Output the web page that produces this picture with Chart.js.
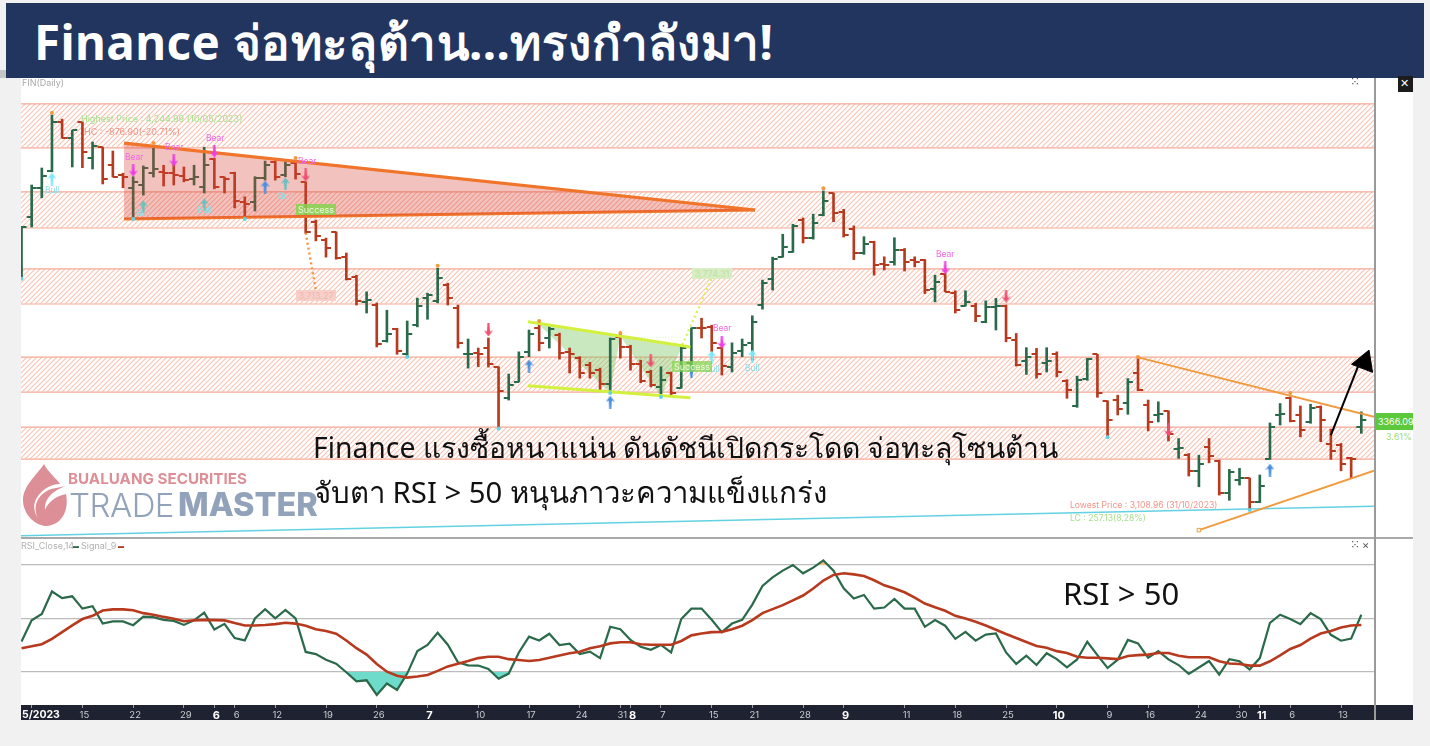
<!DOCTYPE html>
<html>
<head>
<meta charset="utf-8">
<title>Finance</title>
<script src="https://cdn.jsdelivr.net/npm/chart.js@4"></script>
<style>
  html, body { margin: 0; padding: 0; background: #f1f1f1; }
  body { position: relative; width: 1430px; height: 746px; overflow: hidden; font-family: Inter, "Noto Sans", sans-serif; }
  .box { position: absolute; }
  .note { position: absolute; white-space: nowrap; }
  canvas { position: absolute; }
</style>
</head>
<body>
<div class="box" style="left:0;top:70px;width:6px;height:8px;background:#c6c6c6"></div>
<div class="box" style="left:21px;top:78px;width:1392px;height:642px;background:#fff"></div>
<div class="box" style="left:21px;top:705px;width:1392px;height:15px;background:#1f2230"></div>
<canvas id="priceChart" style="left:21px;top:78px"></canvas>
<canvas id="rsiChart" style="left:21px;top:538px"></canvas>
<div class="box" style="left:21px;top:537px;width:1392px;height:1.5px;background:#a9a9a9"></div>
<div class="box" style="left:1373.5px;top:78px;width:2px;height:642px;background:#9a9a9a"></div>
<div class="box" style="left:6px;top:3px;width:1418px;height:75px;background:#22355f"></div>
<div class="box" style="left:1398px;top:76px;width:15px;height:16px;background:#1c1c1c"></div>
<div class="box" style="left:1376px;top:413px;width:37px;height:17px;background:#5cc83c"></div>
<svg class="box" style="left:22px;top:462px" width="46" height="66" viewBox="0 0 46 66">
  <path d="M22 2 C26 10 34 16 38 22 C30 22 22 26 16 34 C10 42 12 50 16 56 C10 44 16 32 29 27 L44 24 C32 28 22 36 23 48 C26 40 34 34 44 32 C46 42 44 52 38 58 C34 62 28 64 23 64 C10 62 1 50 1 38 C1 24 14 14 22 2 Z" fill="#dc8f97"/>
</svg>
<div id="notes"></div>

<script>
// bar index of each date tick on the shared x axis
const tickIdx = [1, 6, 11, 16, 19, 21, 25, 30, 35, 40, 45, 50, 55, 59, 60, 63, 68, 72, 77, 81, 87, 92, 97, 102, 107, 111, 116, 120, 122, 125, 130];
const tickText = ["", "15", "22", "29", "6", "6", "12", "19", "26", "7", "10", "17", "24", "31", "8", "7", "15", "21", "28", "9", "11", "18", "25", "10", "9", "16", "24", "30", "11", "6", "13"];
const monthTicks = [19, 40, 60, 81, 102, 122];

const opens = [
  3798, 3951, 4034, 4083, 4225, 4178, 4224, 4120, 4152, 4100,
  4071, 4034, 4043, 4078, 4081, 4078, 4069, 4060, 4038, 4118,
  4066, 4077, 3994, 3994, 4063, 4109, 4071, 4107, 4052, 3936,
  3884, 3907, 3835, 3778, 3706, 3697, 3593, 3627, 3555, 3639,
  3717, 3709, 3754, 3688, 3555, 3559, 3573, 3519, 3429, 3476,
  3562, 3630, 3602, 3610, 3562, 3544, 3524, 3509, 3469, 3605,
  3576, 3527, 3503, 3461, 3501, 3458, 3529, 3631, 3634, 3573,
  3518, 3565, 3588, 3697, 3772, 3836, 3850, 3942, 3890, 3956,
  4019, 3966, 3915, 3846, 3879, 3814, 3822, 3857, 3828, 3826,
  3742, 3786, 3733, 3695, 3694, 3649, 3690, 3695, 3596, 3536,
  3557, 3530, 3557, 3478, 3406, 3485, 3555, 3420, 3423, 3415,
  3500, 3408, 3380, 3391, 3281, 3264, 3219, 3288, 3248, 3154,
  3192, 3197, 3130, 3252, 3380, 3428, 3380, 3360, 3403, 3296,
  3293, 3255, 3344
];
const highs = [
  3924, 4043, 4092, 4245, 4233, 4201, 4225, 4167, 4152, 4141,
  4077, 4067, 4098, 4149, 4100, 4103, 4095, 4100, 4152, 4120,
  4066, 4080, 4009, 4067, 4112, 4113, 4110, 4112, 4052, 3942,
  3890, 3908, 3847, 3783, 3735, 3703, 3682, 3630, 3651, 3717,
  3731, 3803, 3760, 3697, 3599, 3573, 3602, 3519, 3498, 3562,
  3625, 3645, 3634, 3616, 3573, 3548, 3532, 3515, 3602, 3613,
  3581, 3538, 3509, 3519, 3504, 3576, 3631, 3659, 3639, 3576,
  3588, 3599, 3666, 3769, 3835, 3901, 3930, 3948, 3959, 4026,
  4020, 3973, 3925, 3894, 3881, 3836, 3891, 3860, 3836, 3828,
  3783, 3788, 3738, 3738, 3702, 3709, 3716, 3697, 3615, 3574,
  3572, 3574, 3562, 3482, 3492, 3543, 3555, 3421, 3437, 3485,
  3544, 3423, 3418, 3392, 3312, 3269, 3264, 3312, 3250, 3223,
  3226, 3198, 3207, 3357, 3413, 3432, 3406, 3411, 3406, 3339,
  3298, 3258, 3389
];
const lows = [
  3775, 3922, 4006, 4081, 4178, 4095, 4093, 4089, 4046, 4066,
  4035, 3948, 4014, 4066, 4040, 4043, 4052, 4043, 4020, 4032,
  4020, 3977, 3948, 3968, 4057, 4057, 4067, 4060, 3904, 3882,
  3835, 3829, 3769, 3697, 3674, 3576, 3590, 3555, 3550, 3634,
  3656, 3703, 3697, 3573, 3515, 3519, 3518, 3342, 3423, 3475,
  3548, 3565, 3573, 3541, 3501, 3486, 3486, 3452, 3446, 3544,
  3509, 3473, 3461, 3437, 3437, 3457, 3501, 3602, 3562, 3495,
  3504, 3548, 3538, 3685, 3740, 3835, 3849, 3876, 3887, 3954,
  3937, 3893, 3828, 3843, 3783, 3798, 3812, 3795, 3807, 3730,
  3706, 3735, 3674, 3694, 3649, 3646, 3625, 3591, 3521, 3497,
  3486, 3504, 3490, 3428, 3402, 3480, 3431, 3317, 3380, 3382,
  3450, 3334, 3360, 3305, 3255, 3204, 3173, 3242, 3149, 3134,
  3178, 3109, 3127, 3252, 3351, 3360, 3317, 3356, 3303, 3252,
  3219, 3197, 3327
];
const closes = [
  3922, 4034, 4069, 4225, 4179, 4201, 4138, 4155, 4060, 4067,
  4066, 4052, 4092, 4089, 4077, 4071, 4057, 4066, 4100, 4037,
  4060, 3996, 3988, 4064, 4100, 4067, 4100, 4074, 3907, 3896,
  3861, 3833, 3772, 3709, 3711, 3584, 3613, 3565, 3613, 3694,
  3726, 3775, 3717, 3587, 3555, 3555, 3527, 3449, 3466, 3547,
  3613, 3588, 3627, 3558, 3555, 3501, 3501, 3469, 3599, 3576,
  3527, 3478, 3466, 3480, 3443, 3573, 3630, 3630, 3588, 3521,
  3560, 3581, 3649, 3760, 3829, 3864, 3924, 3891, 3933, 3996,
  3963, 3898, 3846, 3873, 3812, 3812, 3857, 3822, 3822, 3740,
  3764, 3735, 3682, 3706, 3665, 3692, 3695, 3602, 3524, 3548,
  3498, 3536, 3503, 3452, 3480, 3540, 3444, 3365, 3397, 3476,
  3452, 3360, 3384, 3324, 3284, 3218, 3238, 3261, 3156, 3216,
  3197, 3130, 3176, 3346, 3382, 3362, 3338, 3399, 3365, 3276,
  3238, 3253, 3366.09
];

const rsiValues = [
  41.4, 49.3, 51.7, 60.1, 57.6, 58.3, 53.7, 54.6, 48.1, 48.9,
  48.9, 47.5, 50.7, 50.5, 49.5, 49.1, 47.6, 49.3, 52.2, 45.9,
  48.0, 42.7, 41.8, 50.0, 53.5, 50.1, 53.2, 50.0, 37.5, 36.7,
  34.6, 33.1, 29.9, 26.5, 26.9, 21.4, 25.7, 23.3, 29.4, 37.8,
  40.1, 44.7, 40.2, 33.6, 32.5, 32.4, 31.1, 27.5, 29.4, 37.3,
  43.2, 41.8, 44.3, 40.1, 40.6, 36.7, 37.6, 35.2, 46.9, 46.0,
  42.0, 39.4, 38.3, 40.1, 37.3, 49.8, 53.7, 53.7, 49.5, 44.9,
  48.1, 49.5, 55.2, 62.2, 65.4, 67.9, 70.0, 66.9, 69.0, 71.7,
  67.9, 61.3, 57.5, 58.8, 53.7, 54.1, 57.3, 53.7, 53.7, 46.9,
  49.4, 47.3, 42.4, 45.0, 41.7, 44.0, 44.4, 37.3, 33.0, 36.1,
  32.6, 37.0, 34.8, 31.7, 34.7, 41.3, 36.3, 31.5, 34.6, 42.0,
  40.7, 35.3, 37.8, 34.7, 32.6, 29.3, 31.7, 34.1, 29.0, 34.8,
  34.0, 30.9, 35.2, 48.4, 51.4, 49.8, 47.9, 52.0, 49.8, 43.9,
  41.7, 42.5, 51.4
];
const signalValues = [
  38.9, 39.6, 40.4, 42.4, 44.9, 47.4, 49.8, 51.0, 53.0, 53.4,
  53.4, 53.1, 52.0, 51.4, 50.6, 49.9, 49.0, 49.3, 49.5, 49.4,
  49.3, 48.3, 47.4, 47.4, 47.6, 47.9, 48.4, 48.1, 47.3, 46.0,
  45.3, 44.3, 41.8, 38.9, 36.5, 33.0, 30.1, 28.6, 27.9, 28.3,
  28.9, 30.4, 32.1, 33.1, 34.1, 35.2, 35.7, 35.7, 34.8, 34.5,
  34.1, 34.5, 35.3, 36.2, 37.0, 37.6, 38.9, 39.6, 40.7, 41.1,
  41.1, 40.4, 40.2, 40.2, 40.2, 41.6, 43.7, 44.4, 44.9, 45.0,
  46.0, 47.3, 49.4, 52.0, 53.5, 55.0, 56.8, 58.6, 61.2, 64.2,
  66.3, 66.9, 66.5, 65.9, 64.3, 62.4, 61.2, 59.8, 57.8, 55.6,
  54.2, 52.9, 51.0, 50.0, 48.8, 47.4, 45.8, 44.2, 42.7, 41.2,
  39.7, 39.1, 37.8, 37.1, 35.7, 35.3, 35.3, 35.1, 34.8, 36.0,
  36.3, 36.5, 37.1, 37.1, 36.1, 35.5, 35.5, 35.5, 34.0, 33.2,
  33.0, 32.4, 32.4, 34.0, 36.2, 38.6, 40.1, 42.5, 44.4, 45.3,
  46.6, 47.4, 47.6
];
const rsiGuides = [30, 50, 70];

// resistance zones, top and bottom price of each band
const zoneTops = [4277, 4023, 3801, 3547, 3345];
const zoneBottoms = [4150, 3919, 3700, 3446, 3253];

// drawn trend lines, as [bar index, price]
const triTop = [[10.1, 4164], [72.27, 3971]];
const triBottom = [[10.1, 3945], [72.27, 3971]];
const pennantTop = [[49.9, 3649], [65.9, 3576]];
const pennantBottom = [[49.9, 3464], [65.9, 3430]];
const pennantShadeTop = [[51, 3640], [59, 3608], [65.1, 3582]];
const pennantShadeLow = [[51, 3640], [58, 3443], [59, 3608], [63, 3432], [65.1, 3582]];
const breakDown = [[28, 3905], [29, 3740]];
const breakUp = [[65.1, 3582], [68, 3774]];
const pennantLevel = [[59, 3604], [65.1, 3604]];
const channelTop = [[110, 3546], [133.25, 3375]];
const channelBottom = [[116, 3048], [133.25, 3219]];
const channelAnchor = [[116, 3048]];
const supportLine = [[-0.05, 3032], [133.25, 3117]];
const arrowShaft = [[129, 3322], [132, 3544]];
const arrowHead = [[132.3, 3532]];

const pivotHighs = [[3, 4251], [13, 4164], [27, 4121], [41, 3810], [51, 3651], [59, 3616], [79, 4034], [110, 3547], [125, 3443]];
const pivotLows = [[0, 3773], [11, 3945], [22, 3945], [38, 3547], [47, 3341], [58, 3443], [63, 3432], [107, 3316], [121, 3106]];

const bullCyan = [[3, 4060], [68, 3547], [72, 3550]];
const bullTeal = [[12, 3980], [18, 3986], [26, 4046]];
const bullBlue = [[24, 4037], [50, 3521], [58, 3417], [66, 3504], [123, 3221]];
const bearMagenta = [[11, 4086], [15, 4115], [19, 4141], [69, 3590], [91, 3804]];
const bearRose = [[28, 4072], [46, 3625], [62, 3536], [97, 3723], [113, 3337]];

const X_MIN = -0.05, X_MAX = 133.25;
const GREEN = "#2a6a4b", RED = "#b73a1f";

function xy(pairs) {
    return pairs.map(p => ({ x: p[0], y: p[1] }));
}

function makeTick(color, side) {
    const c = document.createElement("canvas");
    c.width = 12;
    c.height = 2;
    const g = c.getContext("2d");
    g.fillStyle = color;
    if (side === "left") g.fillRect(1, 0, 5, 2);
    else g.fillRect(6, 0, 5, 2);
    return c;
}

function makeArrow(color, dir) {
    const c = document.createElement("canvas");
    c.width = 9;
    c.height = 13;
    const g = c.getContext("2d");
    g.fillStyle = color;
    if (dir < 0) g.setTransform(1, 0, 0, -1, 0, 13);
    g.beginPath();
    g.moveTo(4.5, 0);
    g.lineTo(9, 6);
    g.lineTo(6, 5);
    g.lineTo(5.5, 13);
    g.lineTo(3.5, 13);
    g.lineTo(3, 5);
    g.lineTo(0, 6);
    g.closePath();
    g.fill();
    return c;
}

function makeHatch() {
    const c = document.createElement("canvas");
    c.width = 5;
    c.height = 5;
    const g = c.getContext("2d");
    g.strokeStyle = "#f9c3b3";
    g.lineWidth = 1.1;
    g.beginPath();
    g.moveTo(-1, 6);
    g.lineTo(6, -1);
    g.moveTo(-1, 1);
    g.lineTo(1, -1);
    g.moveTo(4, 6);
    g.lineTo(6, 4);
    g.stroke();
    return document.createElement("canvas").getContext("2d").createPattern(c, "repeat");
}

function trend(pairs, color, width, extra) {
    return Object.assign({
        type: "line",
        data: xy(pairs),
        borderColor: color,
        borderWidth: width,
        pointRadius: 0,
        fill: false,
        tension: 0,
        order: 20
    }, extra || {});
}

function markers(pairs, style, extra) {
    return Object.assign({
        type: "line",
        data: xy(pairs),
        showLine: false,
        pointStyle: style,
        pointRadius: 5,
        order: 10
    }, extra || {});
}

function zoneDatasets() {
    const hatch = makeHatch();
    const out = [];
    zoneTops.forEach((top, i) => {
        out.push(trend([[X_MIN, top], [X_MAX, top]], "#f5a995", 1.2, { fill: "+1", backgroundColor: hatch, order: 50 }));
        out.push(trend([[X_MIN, zoneBottoms[i]], [X_MAX, zoneBottoms[i]]], "#f5a995", 1.2, { order: 50 }));
    });
    return out;
}

function buildPriceDatasets() {
    const colors = closes.map((c, i) => (c >= opens[i] ? GREEN : RED));
    const leftGreen = makeTick(GREEN, "left"), leftRed = makeTick(RED, "left");
    const rightGreen = makeTick(GREEN, "right"), rightRed = makeTick(RED, "right");
    return [
        ...zoneDatasets(),
        trend(supportLine, "#62d2e2", 1.4, { order: 45 }),
        trend(triTop, "#f0742a", 3.2, { fill: "+1", backgroundColor: "rgba(214,66,52,0.32)", order: 19 }),
        trend(triBottom, "#f0742a", 3.2, { order: 19 }),
        trend(pennantShadeTop, "rgba(0,0,0,0)", 0, { fill: "+1", backgroundColor: "rgba(115,195,90,0.38)", order: 40 }),
        trend(pennantShadeLow, "rgba(0,0,0,0)", 0, { order: 40 }),
        {
            type: "bar",
            data: highs.map((h, i) => ({ x: i, y: [lows[i], h] })),
            backgroundColor: colors,
            barThickness: 2,
            order: 30
        },
        markers(opens.map((o, i) => [i, o]), c => (closes[c.dataIndex] >= opens[c.dataIndex] ? leftGreen : leftRed), { order: 29 }),
        markers(closes.map((o, i) => [i, o]), c => (closes[c.dataIndex] >= opens[c.dataIndex] ? rightGreen : rightRed), { order: 29 }),
        trend(pennantTop, "#d3f03f", 3),
        trend(pennantBottom, "#d3f03f", 3),
        trend(pennantLevel, "#cfeebb", 1, { borderDash: [1, 2] }),
        trend(breakDown, "#f0953f", 2.4, { borderDash: [2, 3] }),
        trend(breakUp, "#dcf05a", 2.4, { borderDash: [2, 3] }),
        trend(channelTop, "#f19a3e", 2),
        trend(channelBottom, "#f19a3e", 2),
        markers(channelAnchor, "rect", { pointRadius: 2.5, backgroundColor: "#fff", borderColor: "#f19a3e", borderWidth: 1 }),
        markers(pivotHighs, "circle", { pointRadius: 2, backgroundColor: "#f19a3e", borderWidth: 0 }),
        markers(pivotLows, "circle", { pointRadius: 2, backgroundColor: "#5fd4e4", borderWidth: 0 }),
        markers(bullCyan, makeArrow("#7fe6f5", 1)),
        markers(bullTeal, makeArrow("#6cc0be", 1)),
        markers(bullBlue, makeArrow("#4a8fe0", 1)),
        markers(bearMagenta, makeArrow("#ef3fe3", -1)),
        markers(bearRose, makeArrow("#ef5070", -1)),
        trend(arrowShaft, "#000", 2, { order: 5 }),
        markers(arrowHead, "triangle", { pointRadius: 13, rotation: 21, backgroundColor: "#000", borderColor: "#000", order: 5 })
    ];
}

function drawPriceChart() {
    const el = document.getElementById("priceChart");
    el.width = 1353;
    el.height = 459;
    return new Chart(el, {
        data: { datasets: buildPriceDatasets() },
        options: {
            responsive: false,
            animation: false,
            events: [],
            layout: { padding: 0, autoPadding: false },
            plugins: { legend: { display: false }, tooltip: { enabled: false } },
            scales: {
                x: { type: "linear", display: false, offset: false, min: X_MIN, max: X_MAX },
                y: { type: "linear", display: false, min: 3028.2, max: 4351.5 }
            }
        }
    });
}

function isMonthTick(c) {
    return !!c.tick && monthTicks.includes(c.tick.value);
}

function drawRsiChart() {
    const el = document.getElementById("rsiChart");
    el.width = 1353;
    el.height = 182;
    const rsiPairs = rsiValues.map((v, i) => [i, v]);
    return new Chart(el, {
        data: {
            datasets: [
                trend(rsiPairs, "rgba(0,0,0,0)", 0, {
                    fill: { target: { value: 30 }, above: "rgba(0,0,0,0)", below: "#6fdccb" },
                    order: 12
                }),
                trend(rsiPairs, GREEN, 2.2, {
                    fill: { target: { value: 70 }, above: "#f5bb7c", below: "rgba(0,0,0,0)" },
                    order: 11
                }),
                trend(signalValues.map((v, i) => [i, v]), RED, 2.6, { order: 10 })
            ]
        },
        options: {
            responsive: false,
            animation: false,
            events: [],
            layout: { padding: 0, autoPadding: false },
            plugins: { legend: { display: false }, tooltip: { enabled: false } },
            scales: {
                x: {
                    type: "linear",
                    min: X_MIN,
                    max: X_MAX,
                    afterBuildTicks: axis => { axis.ticks = tickIdx.map(v => ({ value: v })); },
                    afterFit: axis => { axis.height = 15; },
                    border: { display: false },
                    grid: { drawOnChartArea: false, tickLength: 3, tickColor: "#9a9da6" },
                    ticks: {
                        autoSkip: false,
                        maxRotation: 0,
                        padding: 1,
                        labelOffset: 2,
                        color: c => (isMonthTick(c) ? "#fff" : "#c9ccd2"),
                        font: c => (isMonthTick(c)
                            ? { family: "Inter", size: 11, weight: "bold" }
                            : { family: "Inter", size: 9.5 }),
                        callback: v => tickText[tickIdx.indexOf(v)]
                    }
                },
                y: {
                    type: "linear",
                    min: 17.66,
                    max: 80.1,
                    afterBuildTicks: axis => { axis.ticks = rsiGuides.map(v => ({ value: v })); },
                    afterFit: axis => { axis.width = 0; },
                    border: { display: false },
                    grid: { color: "#bcbcbc", drawTicks: false, lineWidth: 1.2 },
                    ticks: { display: false }
                }
            }
        }
    });
}

// page-level text: title, commentary, logo words and the small chart captions
function note(text, left, top, css) {
    const d = document.createElement("div");
    d.className = "note";
    d.textContent = text;
    d.style.cssText = `left:${left}px;top:${top}px;${css || ""}`;
    document.getElementById("notes").appendChild(d);
    return d;
}

function drawNotes() {
    const thai = 'font-family:"Noto Sans","Open Sans",sans-serif;color:#111;';
    note("Finance จ่อทะลุต้าน...ทรงกำลังมา!", 34, 12, 'font-family:"Noto Sans",sans-serif;font-weight:700;font-size:47.5px;letter-spacing:.4px;color:#fff;line-height:60px;');
    note("Finance แรงซื้อหนาแน่น ดันดัชนีเปิดกระโดด จ่อทะลุโซนต้าน", 313, 428, thai + "font-size:28.3px;line-height:38px;");
    note("จับตา RSI > 50 หนุนภาวะความแข็งแกร่ง", 314, 473, thai + "font-size:29.3px;line-height:38px;");
    note("RSI > 50", 1063, 574, thai + "font-size:31px;line-height:38px;");

    note("BUALUANG SECURITIES", 68, 470, "font:700 15.2px Inter;color:#dc8f97;line-height:18px;");
    note("TRADE", 69, 486, "font:300 33px Inter;color:#92a2ba;line-height:38px;letter-spacing:-.5px;");
    note("MASTER", 178, 486, "font:800 32.5px Inter;color:#92a2ba;line-height:38px;");

    const small = "font:9px Inter;line-height:11px;";
    note("FIN(Daily)", 22, 77, small + "color:#a8a8a8;");
    note("RSI_Close,14", 21, 540, small + "color:#b0b0b0;");
    note("▬", 73, 540, small + "font-size:6px;color:" + GREEN + ";");
    note("Signal_9", 81, 540, small + "color:#b0b0b0;");
    note("▬", 118, 540, small + "font-size:6px;color:" + RED + ";");
    note("Highest Price : 4,244.99 (10/05/2023)", 81, 113, small + "color:#a6e08c;");
    note("HC : -876.90(-20.71%)", 84, 126, small + "color:#f09488;");
    note("Lowest Price : 3,108.96 (31/10/2023)", 1070, 500, small + "font-size:8.6px;color:#f09488;");
    note("LC : 257.13(8.28%)", 1070, 513, small + "font-size:8.6px;color:#a6e08c;");
    note("3366.09", 1378, 416, "font:9px Inter;line-height:11px;color:#fff;");
    note("3.61%", 1386, 431, small + "color:#9cdc7a;");
    note("5/2023", 22, 708, "font:700 10.5px Inter;line-height:13px;color:#fff;");
    note("✕", 1400, 77, "font:700 11px 'DejaVu Sans';line-height:14px;color:#fff;");
    note("×", 1362, 539, "font:11px Inter;line-height:12px;color:#555;");
    note("⁙", 1350, 76, "font:12px 'DejaVu Sans';line-height:12px;color:#555;");
    note("⁙", 1350, 539, "font:12px 'DejaVu Sans';line-height:12px;color:#555;");

    const bull = "font:8.5px Inter;line-height:10px;color:#8cdce8;";
    const bear = "font:8.5px Inter;line-height:10px;color:#f06ae8;";
    [[45, 185], [136, 208], [197, 205], [278, 191], [705, 364], [745, 363]].forEach(p => note("Bull", p[0], p[1], bull));
    [[125, 152], [165, 142], [206, 133], [298, 156], [713, 323], [936, 249]].forEach(p => note("Bear", p[0], p[1], bear));

    const tag = "font:9px Inter;line-height:11px;text-align:center;width:40px;color:#eafbe0;";
    note("Success", 296, 204, tag + "background:rgba(135,212,80,.85);");
    note("Success", 672, 361, tag + "background:rgba(135,212,80,.75);");
    note("3,713.27", 296, 290, tag + "background:#f7cfc8;color:#eeb9b0;");
    note("3,774.31", 692, 268, tag + "background:#d8edc4;color:#bfe2a2;");
}

drawPriceChart();
drawRsiChart();
drawNotes();
</script>
</body>
</html>
